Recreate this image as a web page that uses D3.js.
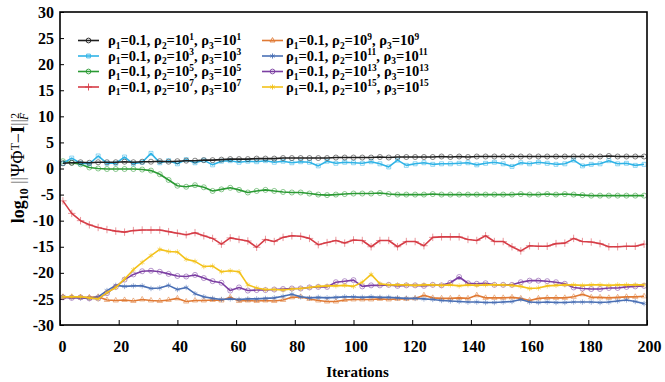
<!doctype html>
<html>
<head>
  <meta charset="utf8"/>
  <style>
    body { margin: 0; background: #fff; }
    text { font-family: "Liberation Serif", "Times New Roman", serif; }
  </style>
</head>
<body>
  <svg width="665" height="382"></svg>
  <script src="https://d3js.org/d3.v7.min.js"></script>
  <script>

    var iterations = d3.range(1, 200, 3);

    var xTicks = [0, 20, 40, 60, 80, 100, 120, 140, 160, 180, 200];
    var yTicks = [-30, -25, -20, -15, -10, -5, 0, 5, 10, 15, 20, 25, 30];

    // exponent of rho2 / rho3 for each series
    var exponents = ['1', '3', '5', '7', '9', '11', '13', '15'];

    var rho1e1 = [
      1.0, 1.1, 1.2, 1.1, 1.2, 1.2, 1.2, 1.3, 1.2, 1.3,
      1.3, 1.4, 1.3, 1.4, 1.5, 1.5, 1.6, 1.6, 1.7, 1.8,
      1.8, 1.8, 1.9, 1.9, 1.9, 2.0, 2.0, 2.0, 2.0, 2.0,
      2.0, 2.1, 2.1, 2.1, 2.1, 2.1, 2.2, 2.1, 2.2, 2.2,
      2.2, 2.2, 2.2, 2.3, 2.2, 2.3, 2.2, 2.3, 2.3, 2.3,
      2.3, 2.3, 2.3, 2.3, 2.3, 2.3, 2.3, 2.3, 2.3, 2.3,
      2.3, 2.3, 2.4, 2.3, 2.3, 2.3, 2.3];
    var rho1e3 = [
      1.0, 2.0, 1.0, 0.9, 2.4, 1.0, 1.0, 2.2, 0.9, 1.2,
      2.9, 1.1, 1.5, 0.9, 1.7, 1.1, 1.6, 0.7, 1.4, 1.5,
      1.2, 1.4, 1.3, 1.5, 1.2, 1.4, 1.1, 1.3, 1.2, 0.5,
      1.4, 1.0, 1.2, 1.1, 1.0, 1.3, 0.9, 0.3, 1.6, 0.6,
      0.9, 1.1, 0.8, 0.9, 0.9, 1.0, 1.1, 0.7, 1.0, 1.2,
      0.9, 0.4, 1.1, 0.9, 1.2, 1.0, 0.8, 0.9, 1.6, 0.5,
      0.8, 0.9, 1.5, 0.9, 1.0, 0.6, 0.8];
    var rho1e5 = [
      1.4, 1.1, 0.8, 0.2, 0.0, -0.1, -0.1, -0.1, -0.1, -0.2,
      -0.4, -1.1, -2.2, -3.3, -3.5, -3.2, -3.6, -4.3, -4.0, -3.7,
      -4.1, -4.6, -4.3, -4.1, -4.3, -4.5, -4.6, -4.6, -4.8, -5.0,
      -5.1, -5.0, -4.9, -4.8, -4.8, -4.8, -4.7, -4.9, -5.0, -5.0,
      -5.0, -5.0, -4.9, -5.0, -5.0, -5.0, -5.0, -5.0, -5.0, -5.0,
      -5.0, -5.0, -4.9, -5.0, -5.0, -4.9, -5.0, -4.9, -5.0, -5.1,
      -5.2, -5.2, -5.2, -5.2, -5.2, -5.2, -5.2];
    var rho1e7 = [
      -6.2, -8.6, -10.0, -10.8, -11.3, -11.7, -12.0, -12.2, -11.9, -11.8,
      -11.8, -11.8, -12.1, -12.4, -12.7, -12.3, -12.9, -13.4, -14.5, -13.3,
      -13.6, -13.9, -15.1, -13.6, -14.0, -13.2, -12.9, -13.0, -13.4, -14.6,
      -14.2, -13.8, -14.3, -13.7, -13.8, -15.0, -13.8, -13.8, -15.0, -14.0,
      -14.0, -14.8, -13.2, -13.1, -13.1, -13.1, -13.6, -13.8, -12.9, -14.0,
      -14.0, -15.0, -15.8, -14.8, -14.9, -14.9, -14.4, -14.3, -13.4, -14.0,
      -14.1, -14.4, -15.0, -15.0, -14.9, -14.9, -14.5];
    var rho1e9 = [
      -24.6, -24.6, -24.7, -24.7, -24.6, -25.2, -25.3, -25.2, -25.4, -25.1,
      -25.3, -25.4, -25.2, -24.9, -25.5, -25.3, -25.3, -25.2, -25.3, -24.7,
      -25.4, -25.3, -25.4, -25.3, -25.4, -25.2, -24.7, -24.6, -25.0, -25.3,
      -25.5, -25.5, -25.2, -25.1, -25.1, -25.1, -25.0, -25.1, -25.0, -25.0,
      -24.9, -24.3, -24.8, -24.9, -24.9, -24.8, -24.9, -24.3, -24.8, -24.8,
      -24.8, -24.7, -24.9, -25.3, -24.9, -24.8, -24.8, -24.8, -24.6, -24.1,
      -24.7, -24.7, -24.8, -24.7, -24.6, -24.6, -24.5];
    var rho1e11 = [
      -24.6, -24.7, -24.8, -24.9, -24.6, -23.4, -22.4, -22.6, -22.5, -22.5,
      -23.0, -22.9, -22.4, -23.2, -22.8, -24.0, -24.6, -24.9, -25.1, -25.0,
      -25.1, -25.0, -25.0, -24.9, -24.8, -24.5, -24.1, -24.6, -24.8, -24.7,
      -24.8, -24.7, -24.6, -24.6, -24.7, -24.6, -24.7, -24.7, -24.8, -24.9,
      -24.9, -25.0, -25.1, -25.3, -25.4, -25.5, -25.6, -25.6, -25.7, -25.7,
      -25.6, -25.5, -25.1, -25.6, -25.7, -25.6, -25.7, -25.7, -25.6, -25.6,
      -25.6, -25.7, -25.6, -25.4, -25.2, -25.5, -25.9];
    var rho1e13 = [
      -24.7, -24.8, -24.7, -24.9, -24.9, -23.9, -22.7, -21.3, -20.3, -19.7,
      -19.6, -19.8, -20.2, -20.6, -20.7, -20.4, -21.0, -21.6, -21.9, -23.4,
      -22.8, -23.4, -23.3, -23.3, -23.2, -23.1, -23.0, -23.0, -22.8, -22.7,
      -22.7, -21.8, -21.6, -21.4, -22.6, -22.4, -22.4, -22.3, -22.5, -22.4,
      -22.4, -22.5, -22.3, -22.4, -21.9, -20.8, -22.0, -22.1, -22.0, -22.3,
      -22.3, -22.3, -21.8, -21.5, -21.5, -21.6, -21.8, -22.1, -22.8, -23.0,
      -23.1, -23.1, -22.9, -22.9, -22.7, -22.6, -22.5];
    var rho1e15 = [
      -24.6, -24.6, -24.6, -24.8, -25.0, -23.8, -22.8, -21.2, -19.4, -18.0,
      -16.7, -15.5, -15.9, -16.0, -17.4, -17.8, -18.8, -18.7, -19.8, -19.6,
      -19.8, -22.3, -22.9, -23.2, -23.2, -23.3, -23.1, -23.0, -22.8, -22.6,
      -22.5, -22.5, -22.4, -22.6, -21.8, -20.3, -22.1, -22.3, -22.3, -22.3,
      -22.4, -22.3, -22.3, -22.4, -22.3, -22.5, -22.3, -22.4, -22.3, -22.3,
      -22.3, -22.4, -22.6, -23.0, -22.9, -22.5, -22.4, -22.3, -22.3, -22.4,
      -22.3, -22.3, -22.4, -22.3, -22.3, -22.3, -22.3];

    var values = [rho1e1, rho1e3, rho1e5, rho1e7, rho1e9, rho1e11, rho1e13, rho1e15];
    var colors = ['#1e1e1e', '#2fb3e6', '#2a9a33', '#d63d47',
                  '#e07a35', '#4a70b5', '#7b3ea2', '#f3c21a'];
    var symbols = [d3.symbolCircle, d3.symbolSquare2, d3.symbolCircle, d3.symbolPlus,
                   d3.symbolTriangle2, d3.symbolAsterisk, d3.symbolCircle, d3.symbolAsterisk];
    // draw order so the lines overlap like the original
    var drawOrder = [4, 5, 6, 7, 3, 2, 1, 0];

    var svg = d3.select('svg'),
        plot = {left: 60, right: 647, top: 12, bottom: 325};

    var x = d3.scaleLinear().domain([0, 200]).range([plot.left, plot.right]);
    var y = d3.scaleLinear().domain([-30, 30]).range([plot.bottom, plot.top]);

    var line = d3.line()
                 .x(function(d) { return x(d[0]); })
                 .y(function(d) { return y(d[1]); });

    function pairs(i) {
      return values[i].map(function(v, k) { return [iterations[k], v]; });
    }

    // axes
    var xAxis = svg.append('g')
       .attr('transform', 'translate(0,' + plot.bottom + ')')
       .call(d3.axisBottom(x).tickValues(xTicks).tickSize(-5).tickPadding(16)
               .tickFormat(function(d) { return String(d); }));
    var yAxis = svg.append('g')
       .attr('transform', 'translate(' + plot.left + ',0)')
       .call(d3.axisLeft(y).tickValues(yTicks).tickSize(-4).tickPadding(6)
               .tickFormat(function(d) { return String(d); }));
    [xAxis, yAxis].forEach(function(a) {
      a.select('.domain').remove();
      a.selectAll('text')
       .attr('font-family', '"Liberation Serif", serif')
       .attr('font-weight', 'bold')
       .attr('font-size', 16)
       .attr('fill', '#000');
      a.selectAll('line').attr('stroke', '#000');
    });
    xAxis.selectAll('text').attr('dx', 2);

    // series
    drawOrder.forEach(function(i) {
      var pts = pairs(i);
      svg.append('path')
         .datum(pts)
         .attr('fill', 'none')
         .attr('stroke', colors[i])
         .attr('stroke-width', 1.6)
         .attr('stroke-linejoin', 'round')
         .attr('d', line);
      svg.append('g').selectAll('path')
         .data(pts)
         .enter().append('path')
         .attr('transform', function(d) { return 'translate(' + x(d[0]) + ',' + y(d[1]) + ')'; })
         .attr('d', d3.symbol().type(symbols[i]).size(20))
         .attr('fill', 'none')
         .attr('stroke', colors[i])
         .attr('stroke-opacity', 0.6)
         .attr('stroke-width', 0.9);
    });

    // frame
    svg.append('rect')
       .attr('x', plot.left).attr('y', plot.top)
       .attr('width', plot.right - plot.left).attr('height', plot.bottom - plot.top)
       .attr('fill', 'none')
       .attr('stroke', '#000')
       .attr('stroke-width', 1.6);

    // text with sub / superscripts
    function rich(text, parts, size) {
      var shift = 0;
      parts.forEach(function(p) {
        var want = p[1] === 'sub' ? 3.5 : p[1] === 'sup' ? -5.5 : 0;
        var t = text.append('tspan')
                    .attr('dy', want - shift)
                    .attr('font-size', p[1] === 'n' ? size : size * 0.65)
                    .text(p[0]);
        if (p[2]) {
          Object.keys(p[2]).forEach(function(k) { t.attr(k, p[2][k]); });
        }
        shift = want;
      });
    }

    // legend
    var rows = [40.5, 56, 71.5, 87];
    exponents.forEach(function(e, i) {
      var col = i < 4 ? 0 : 1,
          ly = rows[i % 4],
          x0 = col ? 262 : 78,
          tx = col ? 286 : 108;
      svg.append('line')
         .attr('x1', x0).attr('x2', x0 + 21)
         .attr('y1', ly).attr('y2', ly)
         .attr('stroke', colors[i]).attr('stroke-width', 1.6);
      svg.append('path')
         .attr('transform', 'translate(' + (x0 + 10.5) + ',' + ly + ')')
         .attr('d', d3.symbol().type(symbols[i]).size(18))
         .attr('fill', 'none')
         .attr('stroke', colors[i])
         .attr('stroke-width', 0.9);
      var t = svg.append('text')
                 .attr('x', tx).attr('y', ly + 4.5)
                 .attr('font-weight', 'bold')
                 .attr('fill', '#000');
      rich(t, [['ρ', 'n'], ['1', 'sub'], ['=0.1, ρ', 'n'], ['2', 'sub'], ['=10', 'n'], [e, 'sup'],
               [', ρ', 'n'], ['3', 'sub'], ['=10', 'n'], [e, 'sup']], 14.5);
    });

    // axis titles
    svg.append('text')
       .attr('x', (plot.left + plot.right) / 2 + 4).attr('y', 377)
       .attr('text-anchor', 'middle')
       .attr('font-weight', 'bold')
       .attr('font-size', 15)
       .text('Iterations');

    var yl = svg.append('text')
       .attr('transform', 'translate(24,168) rotate(-90)')
       .attr('text-anchor', 'middle')
       .attr('fill', '#000');
    rich(yl, [['log', 'n', {'font-weight': 'bold'}], ['10', 'sub', {'font-weight': 'bold'}],
              [' ', 'n'], ['||', 'n', {'fill': '#888'}], ['ΨΦ', 'n'], ['T', 'sup'],
              ['−', 'n'], ['I', 'n', {'font-weight': 'bold'}], ['||', 'n', {'fill': '#888'}],
              ['2', 'sup'], ['F', 'sub', {'font-style': 'italic', 'dx': -7}]], 18);

  </script>
</body>
</html>
